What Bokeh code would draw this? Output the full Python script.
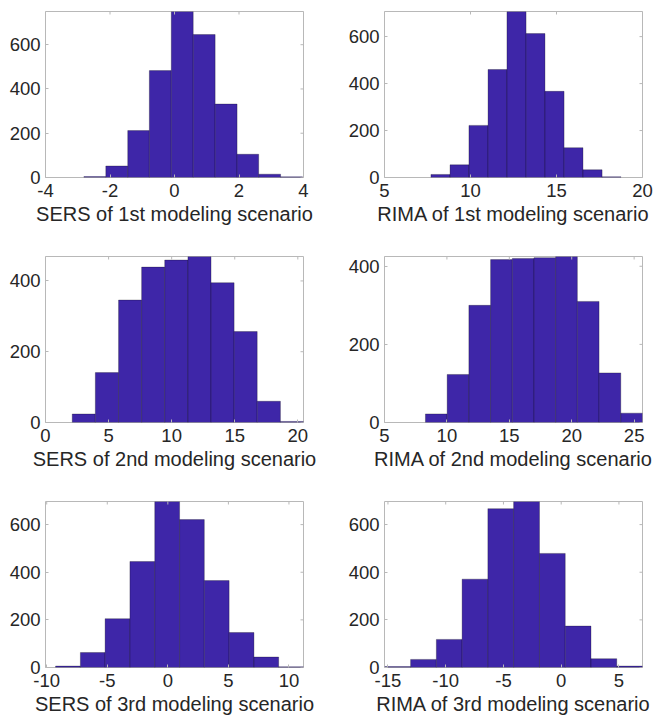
import math

from bokeh.plotting import figure
from bokeh.layouts import column, row
from bokeh.models import Range1d, FixedTicker
from bokeh.embed import file_html
from bokeh.resources import INLINE

# Histogram bin edges and counts for each panel
sers1_edges = [-2.81, -2.13, -1.45, -0.78, -0.10, 0.58, 1.26, 1.94, 2.61, 3.29, 3.97]
sers1_counts = [4, 52, 212, 483, 750, 646, 332, 105, 15, 3]
rima1_edges = [7.70, 8.81, 9.91, 11.02, 12.12, 13.23, 14.33, 15.44, 16.54, 17.65, 18.75]
rima1_counts = [13, 54, 222, 460, 707, 613, 367, 127, 33, 3]

sers2_edges = [2.12, 3.95, 5.79, 7.62, 9.45, 11.29, 13.12, 14.95, 16.78, 18.62, 20.45]
sers2_counts = [24, 141, 346, 439, 459, 469, 395, 257, 60, 3]
rima2_edges = [8.28, 10.02, 11.76, 13.50, 15.24, 16.98, 18.71, 20.45, 22.19, 23.93, 25.67]
rima2_counts = [22, 123, 300, 417, 420, 422, 425, 310, 127, 24]

sers3_edges = [-9.27, -7.22, -5.18, -3.13, -1.08, 0.97, 3.01, 5.06, 7.11, 9.15, 11.20]
sers3_counts = [6, 63, 205, 445, 697, 621, 365, 147, 44, 3]
rima3_edges = [-15.27, -13.04, -10.81, -8.58, -6.35, -4.12, -1.88, 0.35, 2.58, 4.81, 7.04]
rima3_counts = [4, 34, 118, 371, 667, 697, 479, 174, 37, 6]

# Axis extents and ticks
sers1_xlim = [-4, 4]
rima1_xlim = [5, 20]
sers2_xlim = [0, 20.45]
rima2_xlim = [5, 25.67]
sers3_xlim = [-10.1, 11.2]
rima3_xlim = [-15.3, 7.04]

sers1_xticks = [-4, -2, 0, 2, 4]
rima1_xticks = [5, 10, 15, 20]
sers2_xticks = [0, 5, 10, 15, 20]
rima2_xticks = [5, 10, 15, 20, 25]
sers3_xticks = [-10, -5, 0, 5, 10]
rima3_xticks = [-15, -10, -5, 0, 5]

yticks_600 = [0, 200, 400, 600]
yticks_400 = [0, 200, 400]

titles = [
    "SERS of 1st modeling scenario", "RIMA of 1st modeling scenario",
    "SERS of 2nd modeling scenario", "RIMA of 2nd modeling scenario",
    "SERS of 3rd modeling scenario", "RIMA of 3rd modeling scenario",
]

FONT = "Liberation Sans"
TEXT = "#262626"
BOX = "#b8b8b8"
BAR = "#3e26a8"


def hist_panel(edges, counts, xlim, xticks, yticks, label, left_col, bottom_row):
    h = 231 if bottom_row else 245
    ymax = max(counts)
    p = figure(width=330, height=h, output_backend="svg", toolbar_location=None,
               x_range=Range1d(xlim[0], xlim[1]), y_range=Range1d(0, ymax),
               min_border_left=45 if left_col else 54,
               min_border_right=27 if left_col else 18,
               min_border_top=11, min_border_bottom=54 if bottom_row else 68)
    p.quad(left=edges[:-1], right=edges[1:], bottom=0, top=counts,
           fill_color=BAR, line_color="black", line_alpha=0.45, line_width=0.6)
    p.xgrid.visible = False
    p.ygrid.visible = False
    p.outline_line_color = BOX
    p.outline_line_width = 1
    p.background_fill_color = "white"
    p.border_fill_color = "white"

    # inward ticks along the top and right edges of the box (clipped to the frame)
    p.scatter(x=xticks, y=[ymax] * len(xticks), marker="dash", angle=math.pi / 2,
              size=6, line_color=BOX, line_width=1)
    p.scatter(x=[xlim[1]] * len(yticks), y=yticks, marker="dash",
              size=6, line_color=BOX, line_width=1)

    xa = p.xaxis[0]
    xa.ticker = FixedTicker(ticks=xticks)
    xa.major_label_overrides = {t: str(t) for t in xticks}
    xa.axis_label = label
    ya = p.yaxis[0]
    ya.ticker = FixedTicker(ticks=yticks)
    for ax in (xa, ya):
        ax.axis_line_color = None
        ax.major_tick_in = 3
        ax.major_tick_out = 0
        ax.major_tick_line_color = BOX
        ax.minor_tick_line_color = None
        ax.major_label_text_font = FONT
        ax.major_label_text_font_size = "18.5px"
        ax.major_label_text_color = TEXT
        ax.axis_label_text_font = FONT
        ax.axis_label_text_font_size = "20px"
        ax.axis_label_text_font_style = "normal"
        ax.axis_label_text_color = TEXT
    xa.major_label_standoff = 6
    xa.axis_label_standoff = 3
    ya.major_label_standoff = 5
    return p


p1 = hist_panel(sers1_edges, sers1_counts, sers1_xlim, sers1_xticks, yticks_600, titles[0], True, False)
p2 = hist_panel(rima1_edges, rima1_counts, rima1_xlim, rima1_xticks, yticks_600, titles[1], False, False)
p3 = hist_panel(sers2_edges, sers2_counts, sers2_xlim, sers2_xticks, yticks_400, titles[2], True, False)
p4 = hist_panel(rima2_edges, rima2_counts, rima2_xlim, rima2_xticks, yticks_400, titles[3], False, False)
p5 = hist_panel(sers3_edges, sers3_counts, sers3_xlim, sers3_xticks, yticks_600, titles[4], True, True)
p6 = hist_panel(rima3_edges, rima3_counts, rima3_xlim, rima3_xticks, yticks_600, titles[5], False, True)

layout = column(row(p1, p2, spacing=0), row(p3, p4, spacing=0), row(p5, p6, spacing=0), spacing=0)

open("out.html", "w").write(file_html(layout, INLINE))
